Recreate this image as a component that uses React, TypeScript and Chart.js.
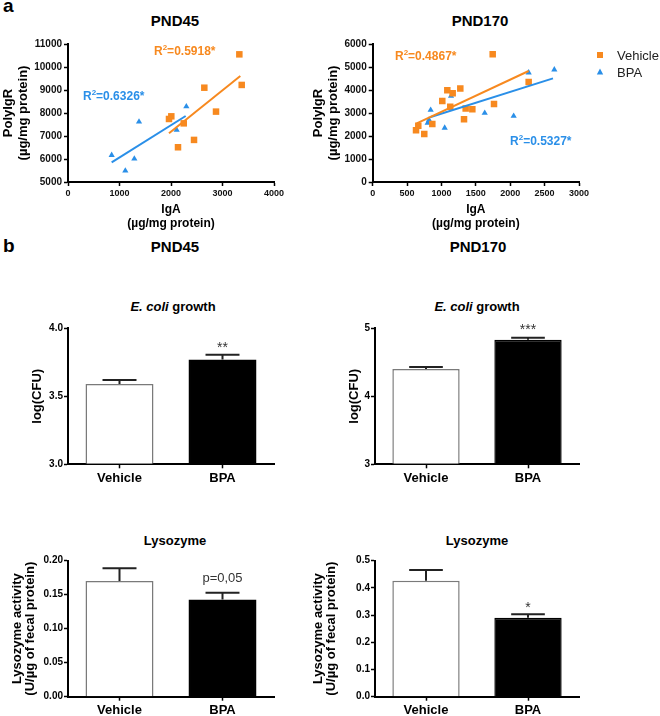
import React, { useEffect, useRef } from 'react';
import { Chart, registerables } from 'chart.js';

Chart.register(...registerables);

const FONT = "'Liberation Sans', Arial, Helvetica, sans-serif";
Chart.defaults.font.family = FONT;

const ORANGE = '#F7891F';
const BLUE = '#2A8FE8';

// ---------- a: PND45 scatter (IgA vs PolyIgR) ----------
const pnd45VehicleIgA = [3327, 3373, 2647, 2874, 2006, 1961, 2247, 2447, 2136];
const pnd45VehiclePigr = [10550, 9220, 9100, 8060, 7855, 7740, 7550, 6830, 6510];
const pnd45BpaIgA = [848, 1113, 1288, 1379, 2110, 2298];
const pnd45BpaPigr = [6170, 5490, 6010, 7620, 7260, 8280];
const pnd45VehicleFitX = [1961, 3346];
const pnd45VehicleFitY = [7116, 9609];
const pnd45BpaFitX = [848, 2285];
const pnd45BpaFitY = [5856, 7870];
const pnd45R2 = ['0.5918', '0.6326'];

// ---------- a: PND170 scatter ----------
const pnd170VehicleIgA = [1745, 2268, 1085, 1163, 1274, 1012, 1128, 1352, 1449, 1764, 1328, 867, 663, 630, 750];
const pnd170VehiclePigr = [5550, 4350, 3990, 3855, 4060, 3520, 3275, 3200, 3160, 3390, 2725, 2520, 2450, 2245, 2085];
const pnd170BpaIgA = [2641, 2268, 1139, 1012, 843, 819, 800, 1047, 1629, 2050];
const pnd170BpaPigr = [4885, 4755, 3740, 3505, 3130, 2700, 2570, 2350, 3000, 2870];
const pnd170VehicleFitX = [640, 2268];
const pnd170VehicleFitY = [2551, 4826];
const pnd170BpaFitX = [833, 2622];
const pnd170BpaFitY = [2812, 4507];
const pnd170R2 = ['0.4867', '0.5327'];

const seriesNames = ['Vehicle', 'BPA'];

// ---------- b: bars ----------
const barCategories = ['Vehicle', 'BPA'];
const ecoliPnd45 = [3.59, 3.77];
const ecoliPnd45Sem = [0.03, 0.035];
const ecoliPnd45Sig = ['', '**'];
const ecoliPnd170 = [4.40, 4.83];
const ecoliPnd170Sem = [0.03, 0.03];
const ecoliPnd170Sig = ['', '***'];
const lysoPnd45 = [0.170, 0.143];
const lysoPnd45Sem = [0.019, 0.010];
const lysoPnd45Sig = ['', 'p=0,05'];
const lysoPnd170 = [0.426, 0.290];
const lysoPnd170Sem = [0.040, 0.013];
const lysoPnd170Sig = ['', '*'];

type Box = { left: number; top: number; width: number; height: number };
type Area = { l: number; t: number; r: number; b: number };

const axisGrid = {
  display: true,
  drawOnChartArea: false,
  drawTicks: true,
  tickLength: 4,
  tickWidth: 1.5,
  tickColor: '#000',
  color: '#000',
};
const axisBorder = { display: true, color: '#000', width: 2 };

function frame(box: Box, area: Area) {
  return {
    padding: { left: 0, top: area.t - box.top, right: box.left + box.width - area.r, bottom: 0 },
    yWidth: area.l - box.left,
    xHeight: box.top + box.height - area.b,
  };
}

function pts(xs: number[], ys: number[]) {
  return xs.map((x, i) => ({ x, y: ys[i] }));
}

function drawR2(ctx: CanvasRenderingContext2D, x: number, y: number, value: string, color: string) {
  ctx.save();
  ctx.fillStyle = color;
  ctx.textBaseline = 'middle';
  ctx.textAlign = 'left';
  ctx.font = `bold 12px ${FONT}`;
  ctx.fillText('R', x, y);
  let w = ctx.measureText('R').width;
  ctx.font = `bold 8px ${FONT}`;
  ctx.fillText('2', x + w, y - 4);
  w += ctx.measureText('2').width;
  ctx.font = `bold 12px ${FONT}`;
  ctx.fillText('=' + value + '*', x + w, y);
  ctx.restore();
}

type ScatterSpec = {
  box: Box;
  area: Area;
  vx: number[]; vy: number[]; bx: number[]; by: number[];
  vfx: number[]; vfy: number[]; bfx: number[]; bfy: number[];
  xMax: number; xStep: number; yMin: number; yMax: number; yStep: number;
  yTitlePad: number;
  r2: string[];
  r2Pos: { x: number; y: number }[];
  legend: boolean;
};

function scatterConfig(s: ScatterSpec): any {
  const f = frame(s.box, s.area);
  const colors = [ORANGE, BLUE];
  return {
    type: 'scatter',
    data: {
      datasets: [
        { label: seriesNames[0], data: pts(s.vx, s.vy), pointStyle: 'rect', pointRadius: 4.6, borderWidth: 0, backgroundColor: ORANGE, borderColor: ORANGE, order: 1 },
        { label: seriesNames[1], data: pts(s.bx, s.by), pointStyle: 'triangle', pointRadius: 3.6, borderWidth: 0, backgroundColor: BLUE, borderColor: BLUE, order: 1 },
        { label: 'fitV', data: pts(s.vfx, s.vfy), showLine: true, pointRadius: 0, borderColor: ORANGE, borderWidth: 2, order: 0 },
        { label: 'fitB', data: pts(s.bfx, s.bfy), showLine: true, pointRadius: 0, borderColor: BLUE, borderWidth: 2, order: 0 },
      ],
    },
    options: {
      animation: false,
      responsive: false,
      layout: { padding: f.padding },
      plugins: { legend: { display: false }, tooltip: { enabled: false } },
      scales: {
        x: {
          type: 'linear', min: 0, max: s.xMax,
          ticks: { stepSize: s.xStep, autoSkip: false, maxRotation: 0, padding: 2, color: '#111', font: { size: 9, weight: 'bold' }, callback: (v: number) => String(v) },
          grid: axisGrid, border: axisBorder,
          title: { display: true, text: ['IgA', '(µg/mg protein)'], color: '#000', font: { size: 12, weight: 'bold', lineHeight: '14px' }, padding: { top: 0, bottom: 9 } },
          afterFit: (sc: any) => { sc.height = f.xHeight; },
        },
        y: {
          type: 'linear', min: s.yMin, max: s.yMax,
          ticks: { stepSize: s.yStep, padding: 2, color: '#111', font: { size: 10, weight: 'bold' }, callback: (v: number) => String(v) },
          grid: axisGrid, border: axisBorder,
          title: { display: true, text: ['PolyIgR', '(µg/mg protein)'], color: '#000', font: { size: 13, weight: 'bold', lineHeight: '15px' }, padding: { top: s.yTitlePad, bottom: 0 } },
          afterFit: (sc: any) => { sc.width = f.yWidth; },
        },
      },
    },
    plugins: [
      {
        id: 'r2labels',
        afterDraw(chart: any) {
          const { ctx } = chart;
          const xs = chart.scales.x, ys = chart.scales.y;
          s.r2.forEach((val, i) => {
            drawR2(ctx, xs.getPixelForValue(s.r2Pos[i].x), ys.getPixelForValue(s.r2Pos[i].y), val, colors[i]);
          });
          if (s.legend) {
            const ca = chart.chartArea;
            const mx = ca.right + 21;
            const tx = ca.right + 38;
            [0, 1].forEach((i) => {
              const my = ca.top + 11 + i * 17;
              ctx.save();
              ctx.fillStyle = colors[i];
              ctx.beginPath();
              if (i === 0) {
                ctx.rect(mx - 3, my - 3, 6, 6);
              } else {
                ctx.moveTo(mx, my - 3.5);
                ctx.lineTo(mx + 3.2, my + 2.5);
                ctx.lineTo(mx - 3.2, my + 2.5);
                ctx.closePath();
              }
              ctx.fill();
              ctx.fillStyle = '#222';
              ctx.font = `13px ${FONT}`;
              ctx.textAlign = 'left';
              ctx.textBaseline = 'middle';
              ctx.fillText(chart.data.datasets[i].label, tx, my + 1);
              ctx.restore();
            });
          }
        },
      },
    ],
  };
}

type BarSpec = {
  box: Box;
  area: Area;
  values: number[];
  sem: number[];
  sig: string[];
  sigFont: string;
  sigGap: number;
  yMin: number; yMax: number; yStep: number; decimals: number;
  yTitle: string | string[];
  yTitleLH: number;
  yTitlePad: number;
};

function barConfig(s: BarSpec): any {
  const f = frame(s.box, s.area);
  return {
    type: 'bar',
    data: {
      labels: barCategories,
      datasets: [
        {
          data: s.values,
          base: s.yMin,
          backgroundColor: ['#ffffff', '#000000'],
          borderColor: ['#7a7a7a', '#000000'],
          borderWidth: 1.5,
          categoryPercentage: 1,
          barPercentage: 0.66,
        },
      ],
    },
    options: {
      animation: false,
      responsive: false,
      layout: { padding: f.padding },
      plugins: { legend: { display: false }, tooltip: { enabled: false } },
      scales: {
        x: {
          grid: { ...axisGrid, offset: false },
          border: axisBorder,
          ticks: { padding: 2, color: '#000', font: { size: 13, weight: 'bold' } },
          afterFit: (sc: any) => { sc.height = f.xHeight; },
        },
        y: {
          min: s.yMin, max: s.yMax,
          ticks: { stepSize: s.yStep, padding: 1, color: '#000', font: { size: 10, weight: 'bold' }, callback: (v: number) => Number(v).toFixed(s.decimals) },
          grid: axisGrid, border: axisBorder,
          title: { display: true, text: s.yTitle, color: '#000', font: { size: 13, weight: 'bold', lineHeight: s.yTitleLH + 'px' }, padding: { top: s.yTitlePad, bottom: 0 } },
          afterFit: (sc: any) => { sc.width = f.yWidth; },
        },
      },
    },
    plugins: [
      {
        id: 'errorBars',
        afterDatasetsDraw(chart: any) {
          const { ctx } = chart;
          const ys = chart.scales.y;
          const meta = chart.getDatasetMeta(0);
          const vals = chart.data.datasets[0].data as number[];
          meta.data.forEach((el: any, i: number) => {
            const capY = ys.getPixelForValue(vals[i] + s.sem[i]);
            const half = el.width / 4;
            ctx.save();
            ctx.strokeStyle = '#222';
            ctx.lineWidth = 2;
            ctx.beginPath();
            ctx.moveTo(el.x, el.y);
            ctx.lineTo(el.x, capY);
            ctx.moveTo(el.x - half, capY);
            ctx.lineTo(el.x + half, capY);
            ctx.stroke();
            if (s.sig[i]) {
              ctx.fillStyle = '#333';
              ctx.font = s.sigFont;
              ctx.textAlign = 'center';
              ctx.textBaseline = 'alphabetic';
              ctx.fillText(s.sig[i], el.x, capY - s.sigGap);
            }
            ctx.restore();
          });
        },
      },
    ],
  };
}

function ChartCanvas({ box, config }: { box: Box; config: any }) {
  const ref = useRef<HTMLCanvasElement>(null);
  useEffect(() => {
    const c = new Chart(ref.current!.getContext('2d')!, config);
    return () => c.destroy();
  }, []);
  return (
    <canvas
      ref={ref}
      width={box.width}
      height={box.height}
      style={{ position: 'absolute', left: box.left, top: box.top, width: box.width, height: box.height }}
    />
  );
}

function Label({ cx, cy, size, children, left }: { cx?: number; cy: number; size: number; children: any; left?: number }) {
  const style: any = {
    position: 'absolute',
    top: cy - size / 2,
    lineHeight: size + 'px',
    fontSize: size,
    fontWeight: 'bold',
    whiteSpace: 'nowrap',
    color: '#000',
  };
  if (left !== undefined) {
    style.left = left;
  } else {
    style.left = (cx as number) - 150;
    style.width = 300;
    style.textAlign = 'center';
  }
  return <div style={style}>{children}</div>;
}

export default function App() {
  const sL: ScatterSpec = {
    box: { left: 0, top: 0, width: 300, height: 240 },
    area: { l: 68, t: 44, r: 274, b: 182 },
    vx: pnd45VehicleIgA, vy: pnd45VehiclePigr, bx: pnd45BpaIgA, by: pnd45BpaPigr,
    vfx: pnd45VehicleFitX, vfy: pnd45VehicleFitY, bfx: pnd45BpaFitX, bfy: pnd45BpaFitY,
    xMax: 4000, xStep: 1000, yMin: 5000, yMax: 11000, yStep: 1000,
    yTitlePad: 0.5,
    r2: pnd45R2,
    r2Pos: [{ x: 1670, y: 10650 }, { x: 291, y: 8700 }],
    legend: false,
  };
  const sR: ScatterSpec = {
    box: { left: 300, top: 0, width: 360, height: 240 },
    area: { l: 372.7, t: 44, r: 579, b: 182 },
    vx: pnd170VehicleIgA, vy: pnd170VehiclePigr, bx: pnd170BpaIgA, by: pnd170BpaPigr,
    vfx: pnd170VehicleFitX, vfy: pnd170VehicleFitY, bfx: pnd170BpaFitX, bfy: pnd170BpaFitY,
    xMax: 3000, xStep: 500, yMin: 0, yMax: 6000, yStep: 1000,
    yTitlePad: 11,
    r2: pnd170R2,
    r2Pos: [{ x: 324, y: 5435 }, { x: 1997, y: 1739 }],
    legend: true,
  };
  const astFont = `14px ${FONT}`;
  const eL: BarSpec = {
    box: { left: 0, top: 300, width: 300, height: 195 },
    area: { l: 68, t: 328.3, r: 274, b: 464.3 },
    values: ecoliPnd45, sem: ecoliPnd45Sem, sig: ecoliPnd45Sig, sigFont: astFont, sigGap: 3,
    yMin: 3, yMax: 4, yStep: 0.5, decimals: 1,
    yTitle: 'log(CFU)', yTitleLH: 13, yTitlePad: 30.5,
  };
  const eR: BarSpec = {
    box: { left: 300, top: 300, width: 360, height: 195 },
    area: { l: 375, t: 328.3, r: 579, b: 464.3 },
    values: ecoliPnd170, sem: ecoliPnd170Sem, sig: ecoliPnd170Sig, sigFont: astFont, sigGap: 3.5,
    yMin: 3, yMax: 5, yStep: 1, decimals: 0,
    yTitle: 'log(CFU)', yTitleLH: 13, yTitlePad: 47.5,
  };
  const lL: BarSpec = {
    box: { left: 0, top: 530, width: 300, height: 186 },
    area: { l: 68, t: 560.7, r: 274, b: 696.7 },
    values: lysoPnd45, sem: lysoPnd45Sem, sig: lysoPnd45Sig, sigFont: `13px ${FONT}`, sigGap: 11,
    yMin: 0, yMax: 0.2, yStep: 0.05, decimals: 2,
    yTitle: ['Lysozyme activity', '(U/µg of fecal protein)'], yTitleLH: 13, yTitlePad: 10.5,
  };
  const lR: BarSpec = {
    box: { left: 300, top: 530, width: 360, height: 186 },
    area: { l: 375, t: 560.7, r: 579, b: 696.7 },
    values: lysoPnd170, sem: lysoPnd170Sem, sig: lysoPnd170Sig, sigFont: astFont, sigGap: 2.5,
    yMin: 0, yMax: 0.5, yStep: 0.1, decimals: 1,
    yTitle: ['Lysozyme activity', '(U/µg of fecal protein)'], yTitleLH: 13, yTitlePad: 12,
  };

  return (
    <div
      style={{
        position: 'fixed', left: 0, top: 0, width: 660, height: 716,
        background: '#fff', fontFamily: FONT, overflow: 'hidden',
      }}
    >
      <Label left={3} cy={5.5} size={19}>a</Label>
      <Label left={3} cy={245.5} size={19}>b</Label>
      <Label cx={175} cy={20} size={15}>PND45</Label>
      <Label cx={480} cy={20} size={15}>PND170</Label>
      <Label cx={175} cy={246} size={15}>PND45</Label>
      <Label cx={478} cy={246} size={15}>PND170</Label>
      <Label cx={173} cy={306} size={13}><i>E. coli</i> growth</Label>
      <Label cx={477} cy={306} size={13}><i>E. coli</i> growth</Label>
      <Label cx={175} cy={540} size={13}>Lysozyme</Label>
      <Label cx={477} cy={540} size={13}>Lysozyme</Label>

      <ChartCanvas box={sL.box} config={scatterConfig(sL)} />
      <ChartCanvas box={sR.box} config={scatterConfig(sR)} />
      <ChartCanvas box={eL.box} config={barConfig(eL)} />
      <ChartCanvas box={eR.box} config={barConfig(eR)} />
      <ChartCanvas box={lL.box} config={barConfig(lL)} />
      <ChartCanvas box={lR.box} config={barConfig(lR)} />
    </div>
  );
}
